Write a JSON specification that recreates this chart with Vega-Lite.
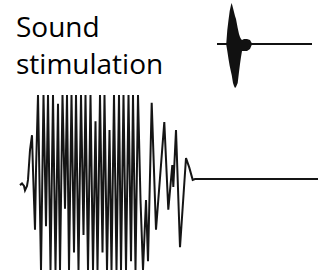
{
  "$schema": "https://vega.github.io/schema/vega-lite/v6.json",
  "width": 318,
  "height": 277,
  "padding": 0,
  "autosize": {"type": "none"},
  "background": "white",
  "config": {"view": {"stroke": null}},
  "title": {
    "text": ["Sound", "stimulation"],
    "anchor": "start",
    "frame": "group",
    "orient": "top",
    "font": "Open Sans",
    "fontSize": 28,
    "fontWeight": "normal",
    "color": "#000000",
    "lineHeight": 37,
    "dx": 16,
    "offset": -80
  },
  "datasets": {
    "big": [
      {"t": 0, "v": -0.03}, {"t": 2, "v": -0.01}, {"t": 4, "v": -0.04}, {"t": 5, "v": -0.09},
      {"t": 7, "v": -0.04}, {"t": 8, "v": 0.03}, {"t": 10, "v": 0.37}, {"t": 12, "v": 0.54},
      {"t": 13, "v": 0.14}, {"t": 15, "v": -0.54}, {"t": 16, "v": 0.14},
      {"t": 18, "v": 1.4}, {"t": 21, "v": -1.4}, {"t": 23.5, "v": 1.4}, {"t": 26, "v": -0.5},
      {"t": 28, "v": 1.4}, {"t": 30.5, "v": -1.4}, {"t": 33, "v": 1.4}, {"t": 35.5, "v": -1.4},
      {"t": 38, "v": 0.9}, {"t": 40, "v": -1.4}, {"t": 42.5, "v": 1.4}, {"t": 45, "v": -0.3},
      {"t": 47, "v": 1.1}, {"t": 49, "v": -1.4}, {"t": 51.5, "v": 1.4}, {"t": 54, "v": -0.8},
      {"t": 56, "v": 1.4}, {"t": 58.5, "v": -1.4}, {"t": 61, "v": 1.4}, {"t": 63.5, "v": -0.6},
      {"t": 65.5, "v": 1.4}, {"t": 68, "v": -1.4}, {"t": 70.5, "v": 1.4}, {"t": 73, "v": -1.4},
      {"t": 75.5, "v": 0.7}, {"t": 77.5, "v": -1.4}, {"t": 80, "v": 1.4}, {"t": 82.5, "v": -0.8},
      {"t": 84.5, "v": 1.4}, {"t": 87, "v": -1.4}, {"t": 89.5, "v": 0.6}, {"t": 91.5, "v": -1.4},
      {"t": 94, "v": 1.4}, {"t": 96.5, "v": -1.4}, {"t": 99, "v": 1.0}, {"t": 101, "v": -1.4},
      {"t": 103.5, "v": 1.4}, {"t": 106, "v": -1.4}, {"t": 108.5, "v": 1.4}, {"t": 111, "v": -0.9},
      {"t": 113, "v": 1.4}, {"t": 115.5, "v": -1.4}, {"t": 118, "v": 1.4}, {"t": 120.5, "v": -0.2},
      {"t": 123, "v": -1.4}, {"t": 126, "v": -0.2}, {"t": 128, "v": -0.9},
      {"t": 131.7, "v": 0.91}, {"t": 136, "v": -0.54}, {"t": 144.3, "v": 0.69},
      {"t": 148.3, "v": -0.31}, {"t": 152.3, "v": 0.2}, {"t": 153.3, "v": -0.05},
      {"t": 156, "v": 0.6}, {"t": 160, "v": -0.74}, {"t": 166, "v": 0.28},
      {"t": 169.3, "v": 0.17}, {"t": 172.7, "v": 0.03}, {"t": 175, "v": 0.04}, {"t": 298, "v": 0.04}
    ],
    "small": [
      {"t": 0, "hi": 1, "lo": -1}, {"t": 9.3, "hi": 1, "lo": -1}, {"t": 10.3, "hi": 14, "lo": -7},
      {"t": 11.5, "hi": 24, "lo": -15}, {"t": 12.7, "hi": 33, "lo": -22}, {"t": 14, "hi": 39, "lo": -28},
      {"t": 14.7, "hi": 41, "lo": -31}, {"t": 16, "hi": 36, "lo": -39}, {"t": 17, "hi": 32, "lo": -42},
      {"t": 18, "hi": 28, "lo": -44}, {"t": 19, "hi": 25, "lo": -43}, {"t": 20.7, "hi": 16, "lo": -39},
      {"t": 22, "hi": 10, "lo": -28}, {"t": 23, "hi": 7, "lo": -20}, {"t": 24, "hi": 5, "lo": -13},
      {"t": 25, "hi": 4, "lo": -7}, {"t": 27, "hi": 5, "lo": -7}, {"t": 30, "hi": 5, "lo": -7},
      {"t": 33, "hi": 4, "lo": -5}, {"t": 34.7, "hi": 1, "lo": -1}, {"t": 95, "hi": 1, "lo": -1}
    ]
  },
  "layer": [
    {
      "data": {"name": "big"},
      "mark": {"type": "line", "color": "#151515", "strokeWidth": 2},
      "encoding": {
        "x": {"field": "t", "type": "quantitative", "axis": null,
              "scale": {"domain": [0, 298], "range": [20, 318], "nice": false, "zero": false}},
        "y": {"field": "v", "type": "quantitative", "axis": null,
              "scale": {"domain": [-1, 1], "range": [270, 95], "nice": false, "zero": false, "clamp": true}}
      }
    },
    {
      "data": {"name": "small"},
      "mark": {"type": "area", "color": "#111111"},
      "encoding": {
        "x": {"field": "t", "type": "quantitative", "axis": null,
              "scale": {"domain": [0, 95], "range": [217, 312], "nice": false, "zero": false}},
        "y": {"field": "hi", "type": "quantitative", "axis": null,
              "scale": {"domain": [-45, 45], "range": [89, -1], "nice": false, "zero": false}},
        "y2": {"field": "lo"}
      }
    }
  ],
  "resolve": {"scale": {"x": "independent", "y": "independent"}}
}
